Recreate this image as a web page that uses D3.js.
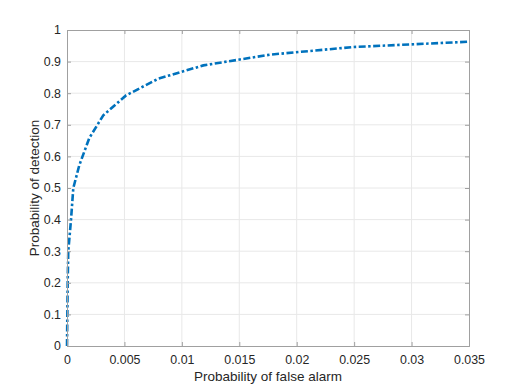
<!DOCTYPE html>
<html>
<head>
<meta charset="utf-8">
<script src="https://cdn.jsdelivr.net/npm/d3@7"></script>
<style>
  body { margin: 0; background: #fff; }
  svg text { font-family: "Liberation Sans", Arial, sans-serif; fill: #262626; }
</style>
</head>
<body>
<div class="chart"></div>
<script>
// ROC curve points
const pfa = [0, 0.00003, 0.00006, 0.00011, 0.00035, 0.00055, 0.00107, 0.00194, 0.00316, 0.00514, 0.00795, 0.01187, 0.01767, 0.0249, 0.035];
const pd  = [0, 0.1, 0.2, 0.3, 0.4, 0.5, 0.572, 0.658, 0.73, 0.793, 0.846, 0.888, 0.922, 0.946, 0.963];

const xTicks = [0, 0.005, 0.01, 0.015, 0.02, 0.025, 0.03, 0.035];
const yTicks = [0, 0.1, 0.2, 0.3, 0.4, 0.5, 0.6, 0.7, 0.8, 0.9, 1];

const margin = {top: 30, left: 67, bottom: 43, right: 50};
const width = 519 - margin.left - margin.right;
const height = 389 - margin.top - margin.bottom;

const svg = d3.select('.chart').append('svg')
    .attr('width', 519)
    .attr('height', 389)
    .append('g')
    .attr('transform', 'translate(' + margin.left + ',' + margin.top + ')');

const xScale = d3.scaleLinear().domain([0, 0.035]).range([0, width]);
const yScale = d3.scaleLinear().domain([0, 1]).range([height, 0]);

// grid
svg.append('g')
    .selectAll('line')
    .data(xTicks.slice(1, -1))
    .enter().append('line')
    .attr('x1', d => xScale(d)).attr('x2', d => xScale(d))
    .attr('y1', 0).attr('y2', height)
    .attr('stroke', '#e8e8e8');

svg.append('g')
    .selectAll('line')
    .data(yTicks.slice(1, -1))
    .enter().append('line')
    .attr('x1', 0).attr('x2', width)
    .attr('y1', d => yScale(d)).attr('y2', d => yScale(d))
    .attr('stroke', '#e8e8e8');

// curve
const line = d3.line()
    .x((d, i) => xScale(pfa[i]))
    .y(d => yScale(d));

svg.append('path')
    .datum(pd)
    .attr('d', line)
    .attr('fill', 'none')
    .attr('stroke', '#0072BD')
    .attr('stroke-width', 2.6)
    .attr('stroke-dasharray', '7,2.5,2.5,2.5');

// axes, ticks inward
const fmt = d => String(+d.toFixed(3));

const xAxis = d3.axisBottom(xScale).tickValues(xTicks).tickSize(-4).tickPadding(9).tickFormat(fmt);
const yAxis = d3.axisLeft(yScale).tickValues(yTicks).tickSize(-4).tickPadding(6).tickFormat(fmt);

svg.append('g')
    .attr('class', 'axis')
    .attr('transform', `translate(0, ${height})`)
    .call(xAxis);

svg.append('g')
    .attr('class', 'axis')
    .call(yAxis);

svg.append('g')
    .attr('class', 'axis')
    .call(d3.axisTop(xScale).tickValues(xTicks).tickSize(-4).tickFormat(''));

svg.append('g')
    .attr('class', 'axis')
    .attr('transform', `translate(${width}, 0)`)
    .call(d3.axisRight(yScale).tickValues(yTicks).tickSize(-4).tickFormat(''));

svg.selectAll('.axis path').attr('stroke', '#a0a0a0');
svg.selectAll('.axis line').attr('stroke', '#a0a0a0');
svg.selectAll('.axis text')
    .attr('font-size', 12.4)
    .attr('font-family', '"Liberation Sans", Arial, sans-serif')
    .attr('fill', '#262626');

svg.append('text')
    .attr('text-anchor', 'middle')
    .attr('x', width / 2)
    .attr('y', height + 35)
    .attr('font-size', 13.5)
    .text('Probability of false alarm');

svg.append('text')
    .attr('text-anchor', 'middle')
    .attr('transform', `translate(-28.5, ${height / 2}) rotate(-90)`)
    .attr('font-size', 13.5)
    .text('Probability of detection');
</script>
</body>
</html>
